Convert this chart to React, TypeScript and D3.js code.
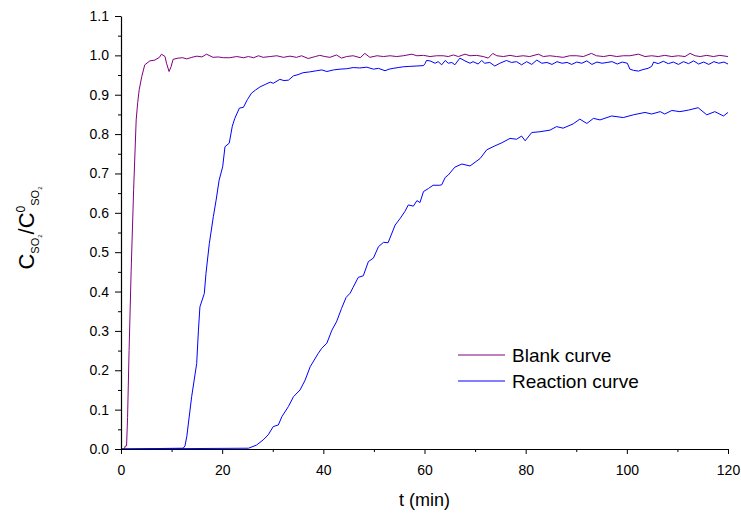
import { useEffect, useRef } from 'react';
import * as d3 from 'd3';

// Breakthrough curves, t (min) vs C/C0
const blankCurve: [number, number][] = [
  [0, 0], [0.7, 0], [0.8, 0.007], [1.1, 0.008], [1.3, 0.08], [1.6, 0.25], [2.0, 0.45], [2.5, 0.66],
  [3.0, 0.836], [3.3, 0.88], [3.6, 0.913], [4.1, 0.946], [4.7, 0.976], [5.7, 0.986], [6.7, 0.988],
  [7.6, 0.995], [8.0, 1.003], [8.7, 0.997], [9.0, 0.98], [9.5, 0.959], [9.9, 0.971], [10.3, 0.99],
  [11.3, 0.993], [12.2, 0.994], [13.0, 0.991], [14.0, 0.995], [15.0, 0.998], [16.0, 0.996], [16.9, 1.003],
  [18.2, 0.995], [19.2, 0.996], [20.3, 0.994], [21.5, 0.994], [22.9, 0.997], [24.2, 0.994], [25.2, 0.997],
  [26.2, 0.994], [27.2, 0.999], [28.1, 0.995], [29.5, 0.997], [30.8, 0.999], [32.1, 0.995], [33.4, 0.998],
  [34.7, 0.995], [35.7, 0.999], [37.0, 0.992], [38.4, 0.997], [39.3, 1.0], [40.3, 0.997], [41.3, 0.995],
  [42.6, 1.001], [43.6, 0.993], [44.6, 0.997], [45.9, 0.999], [47.3, 0.994], [48.2, 1.005], [49.2, 0.995],
  [50.6, 0.999], [51.9, 0.997], [53.2, 0.999], [54.5, 0.997], [55.8, 0.999], [57.5, 1.003], [58.5, 0.999],
  [59.8, 1.0], [61.1, 0.997], [62.4, 0.999], [63.7, 0.999], [64.7, 0.997], [65.7, 1.001], [66.7, 0.997],
  [68.0, 1.003], [69.0, 0.999], [70.3, 1.0], [71.6, 0.997], [72.6, 0.993], [73.5, 1.005], [74.3, 0.999],
  [75.6, 0.997], [76.9, 1.0], [78.2, 0.997], [79.5, 0.999], [80.8, 0.997], [82.5, 1.003], [83.5, 0.997],
  [84.8, 0.999], [86.1, 0.997], [87.4, 0.995], [88.7, 0.999], [90.1, 0.999], [91.4, 0.997], [93.0, 1.005],
  [94.0, 0.999], [95.4, 0.997], [96.7, 1.0], [98.0, 0.997], [99.3, 0.999], [100.6, 0.999], [102.3, 1.003],
  [103.6, 0.997], [104.9, 0.999], [106.2, 0.997], [107.5, 1.0], [108.9, 0.997], [110.2, 0.999], [111.5, 0.997],
  [112.5, 1.005], [113.5, 0.999], [114.5, 0.997], [115.8, 1.0], [117.1, 0.997], [118.4, 1.0], [120, 0.997],
];

const reactionFast: [number, number][] = [
  [0, 0], [12.3, 0.002], [12.65, 0.008], [13.0, 0.031], [13.97, 0.133], [14.96, 0.217], [15.3, 0.3],
  [15.6, 0.361], [16.47, 0.395], [16.8, 0.446], [17.46, 0.522], [18.25, 0.59], [18.8, 0.632], [19.4, 0.683],
  [20.1, 0.717], [20.56, 0.768], [21.4, 0.777], [22.0, 0.82], [22.5, 0.84], [23.4, 0.866], [24.2, 0.868],
  [25.0, 0.888], [25.8, 0.904], [26.6, 0.912], [27.5, 0.92], [28.5, 0.926], [29.5, 0.932], [30.1, 0.929],
  [31.4, 0.939], [32.2, 0.936], [33.1, 0.937], [34.1, 0.948], [35.0, 0.951], [36.0, 0.956], [37.3, 0.958],
  [38.7, 0.961], [39.7, 0.963], [40.7, 0.959], [42.0, 0.963], [43.3, 0.965], [44.6, 0.966], [45.9, 0.969],
  [47.2, 0.968], [48.6, 0.97], [49.9, 0.965], [50.9, 0.967], [52.2, 0.961], [53.0, 0.965], [53.8, 0.967],
  [54.8, 0.969], [55.8, 0.971], [57.1, 0.972], [58.5, 0.973], [59.8, 0.974], [60.1, 0.979], [60.4, 0.987],
  [61.1, 0.986], [62.1, 0.98], [62.7, 0.984], [63.4, 0.976], [64.1, 0.987], [64.7, 0.98], [65.4, 0.982],
  [66.0, 0.976], [67.0, 0.993], [68.0, 0.986], [69.0, 0.98], [69.6, 0.984], [70.6, 0.978], [71.3, 0.987],
  [71.9, 0.98], [72.9, 0.982], [73.9, 0.973], [74.9, 0.98], [76.2, 0.987], [77.2, 0.982], [78.2, 0.984],
  [79.2, 0.976], [80.2, 0.984], [81.2, 0.977], [82.2, 0.988], [83.2, 0.98], [84.2, 0.982], [85.2, 0.977],
  [86.2, 0.984], [87.2, 0.98], [88.2, 0.982], [89.1, 0.977], [90.1, 0.983], [91.1, 0.98], [92.1, 0.986],
  [93.1, 0.977], [94.1, 0.983], [95.1, 0.98], [96.1, 0.982], [97.1, 0.984], [98.1, 0.978], [99.1, 0.983],
  [100.1, 0.98], [100.6, 0.965], [101.3, 0.962], [102.3, 0.96], [103.2, 0.964], [104.2, 0.967], [104.9, 0.972],
  [105.3, 0.983], [106.2, 0.979], [107.2, 0.985], [108.2, 0.979], [109.2, 0.983], [110.2, 0.977], [111.2, 0.984],
  [112.2, 0.979], [113.2, 0.986], [114.2, 0.978], [115.2, 0.983], [116.2, 0.977], [117.2, 0.984], [118.2, 0.98],
  [119.2, 0.983], [120, 0.978],
];

const reactionSlow: [number, number][] = [
  [0, 0], [25.2, 0.002], [26.8, 0.01], [28.1, 0.023], [29.1, 0.036], [30.1, 0.057], [31.1, 0.061],
  [31.8, 0.082], [33.1, 0.108], [34.1, 0.133], [35.4, 0.15], [36.4, 0.175], [37.4, 0.209], [39.0, 0.243],
  [39.7, 0.256], [40.7, 0.269], [41.7, 0.302], [42.6, 0.323], [43.6, 0.357], [44.5, 0.385], [45.3, 0.396],
  [45.9, 0.411], [46.9, 0.436], [47.9, 0.44], [48.9, 0.476], [49.9, 0.485], [50.9, 0.514], [51.9, 0.525],
  [52.8, 0.524], [54.2, 0.569], [55.2, 0.586], [56.1, 0.603], [56.8, 0.62], [57.8, 0.617], [58.5, 0.631],
  [59.1, 0.626], [59.8, 0.654], [60.8, 0.662], [61.7, 0.67], [62.9, 0.67], [63.4, 0.671], [64.1, 0.69],
  [64.7, 0.696], [66.0, 0.716], [67.4, 0.724], [69.0, 0.719], [71.0, 0.738], [72.3, 0.76], [73.9, 0.77],
  [75.3, 0.778], [76.9, 0.789], [78.2, 0.787], [79.2, 0.795], [79.9, 0.783], [81.2, 0.804], [82.8, 0.806],
  [84.8, 0.81], [86.1, 0.819], [87.4, 0.815], [89.4, 0.826], [90.7, 0.838], [92.1, 0.827], [93.4, 0.84],
  [94.7, 0.836], [97.0, 0.846], [99.3, 0.842], [101.3, 0.849], [103.6, 0.855], [104.9, 0.851], [106.6, 0.857],
  [107.5, 0.851], [108.9, 0.86], [110.5, 0.857], [112.2, 0.861], [114.1, 0.867], [115.8, 0.849], [117.4, 0.857],
  [119.1, 0.846], [120, 0.855],
];

const xMajor = [0, 20, 40, 60, 80, 100, 120];
const xMinor = [10, 30, 50, 70, 90, 110];
const yMajor = [0, 0.1, 0.2, 0.3, 0.4, 0.5, 0.6, 0.7, 0.8, 0.9, 1.0, 1.1];
const yMinor = [0.05, 0.15, 0.25, 0.35, 0.45, 0.55, 0.65, 0.75, 0.85, 0.95, 1.05];

const legendItems = [
  { label: 'Blank curve', color: '#800080' },
  { label: 'Reaction curve', color: '#0000ff' },
];

const FONT = "'Liberation Sans', Arial, sans-serif";

export default function App() {
  const svgRef = useRef<SVGSVGElement>(null);

  useEffect(() => {
    if (!svgRef.current) return;
    const W = 741;
    const H = 519;
    const margin = { top: 16, right: 13, bottom: 70, left: 121 };
    const width = W - margin.left - margin.right;
    const height = H - margin.top - margin.bottom;

    const root = d3.select(svgRef.current);
    root.selectAll('*').remove();
    root.attr('width', W).attr('height', H);

    const svg = root.append('g').attr('transform', `translate(${margin.left},${margin.top})`);

    const x = d3.scaleLinear().domain([0, 120]).range([0, width]);
    const y = d3.scaleLinear().domain([0, 1.1]).range([height, 0]);

    const line = d3.line<[number, number]>()
      .x(d => x(d[0]))
      .y(d => y(d[1]));

    // Curves
    const series = [
      { data: reactionSlow, color: '#0000ff' },
      { data: reactionFast, color: '#0000ff' },
      { data: blankCurve, color: '#800080' },
    ];
    series.forEach(s => {
      svg.append('path')
        .datum(s.data)
        .attr('fill', 'none')
        .attr('stroke', s.color)
        .attr('stroke-width', 1)
        .attr('d', line);
    });

    // X axis
    svg.append('g')
      .attr('transform', `translate(0,${height})`)
      .call(d3.axisBottom(x).tickValues(xMinor).tickSize(3).tickSizeOuter(0).tickFormat(() => ''))
      .call(g => g.select('.domain').remove());
    const xAxis = svg.append('g')
      .attr('transform', `translate(0,${height})`)
      .call(d3.axisBottom(x).tickValues(xMajor).tickSize(5).tickSizeOuter(0).tickPadding(11));
    xAxis.select('.domain').attr('stroke-width', 1.2);
    xAxis.selectAll('text')
      .attr('font-size', '14px')
      .attr('font-family', FONT)
      .attr('fill', '#000');

    // Y axis
    svg.append('g')
      .call(d3.axisLeft(y).tickValues(yMinor).tickSize(3).tickSizeOuter(0).tickFormat(() => ''))
      .call(g => g.select('.domain').remove());
    const yAxis = svg.append('g')
      .call(d3.axisLeft(y).tickValues(yMajor).tickSize(6).tickSizeOuter(0).tickPadding(6)
        .tickFormat(d => d3.format('.1f')(d as number)));
    yAxis.select('.domain').attr('stroke-width', 1.2);
    yAxis.selectAll('text')
      .attr('font-size', '14px')
      .attr('font-family', FONT)
      .attr('fill', '#000');

    // X title
    svg.append('text')
      .attr('x', width / 2)
      .attr('y', height + 57)
      .attr('text-anchor', 'middle')
      .attr('font-size', '18px')
      .attr('font-family', FONT)
      .text('t (min)');

    // Y title: C_SO2 / C^0_SO2
    const yt = root.append('text')
      .attr('transform', 'translate(34,228) rotate(-90)')
      .attr('text-anchor', 'middle')
      .attr('font-family', FONT);
    const parts: [string, number, number][] = [
      ['C', 22, 0], ['SO', 11, 5], ['2', 6, 3], ['/C', 22, -8], ['0', 12, -9], ['SO', 11, 14], ['2', 6, 3],
    ];
    parts.forEach(([t, fs, dy]) => {
      yt.append('tspan').attr('font-size', fs).attr('dy', dy).text(t);
    });

    // Legend
    const lg = svg.append('g').attr('transform', `translate(${337},${339})`);
    legendItems.forEach((item, i) => {
      lg.append('line')
        .attr('x1', 0).attr('x2', 47)
        .attr('y1', i * 26).attr('y2', i * 26)
        .attr('stroke', item.color)
        .attr('stroke-width', 1);
      lg.append('text')
        .attr('x', 54)
        .attr('y', i * 26 + 7)
        .attr('font-size', '19px')
        .attr('font-family', FONT)
        .text(item.label);
    });
  }, []);

  return (
    <svg ref={svgRef} style={{ position: 'absolute', left: 0, top: 0, background: '#fff' }} />
  );
}
